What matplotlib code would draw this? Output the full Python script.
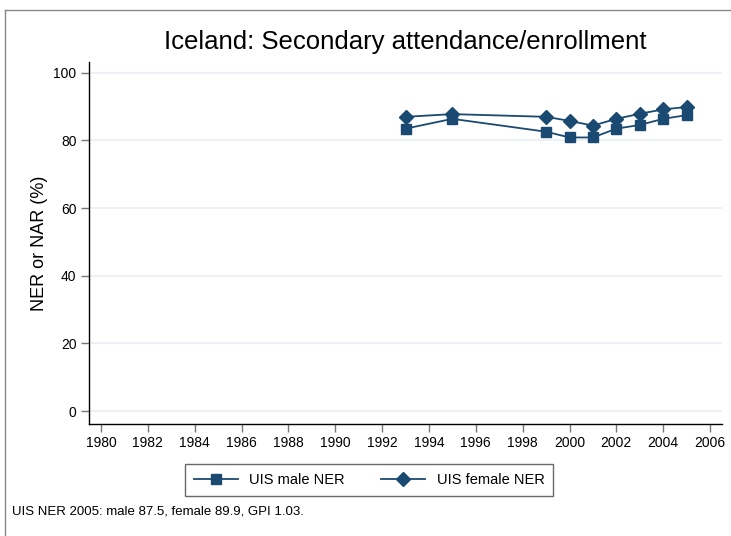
import matplotlib
matplotlib.use('Agg')
import matplotlib.pyplot as plt
from matplotlib.lines import Line2D

plt.rcParams['font.family'] = ['Liberation Sans', 'DejaVu Sans']

# datos
years_male = [1993, 1995, 1999, 2000, 2001, 2002, 2003, 2004, 2005]
male_ner = [83.5, 86.4, 82.6, 80.9, 80.9, 83.5, 84.6, 86.4, 87.5]
years_female = [1993, 1995, 1999, 2000, 2001, 2002, 2003, 2004, 2005]
female_ner = [87.0, 87.8, 87.0, 85.8, 84.4, 86.4, 87.9, 89.2, 89.9]
xticks = list(range(1980, 2007, 2))
yticks = [0, 20, 40, 60, 80, 100]

color = '#1a4a72'

fig = plt.figure(figsize=(7.31, 5.36), dpi=100)
ax = fig.add_axes([0.1218, 0.2090, 0.8659, 0.6753])

for y in yticks:
    ax.axhline(y, color='#e8eff2', lw=1.2, zorder=0)

ax.plot(years_male, male_ner, color=color, marker='s', ms=7, lw=1.3, label='UIS male NER')
ax.plot(years_female, female_ner, color=color, marker='D', ms=7.5, lw=1.3, label='UIS female NER')

ax.set_xlim(1979.49, 2006.51)
ax.set_ylim(-3.8, 103.2)
ax.set_xticks(xticks)
ax.set_yticks(yticks)
ax.tick_params(direction='out', length=6, width=1, color='#777777', labelsize=10, pad=3)
for s in ['top', 'right']:
    ax.spines[s].set_visible(False)
ax.spines['left'].set_linewidth(1.0)
ax.spines['bottom'].set_linewidth(1.0)
ax.set_ylabel('NER or NAR (%)', fontsize=13, labelpad=4)

fig.text(0.554, 0.921, 'Iceland: Secondary attendance/enrollment', ha='center', va='center', fontsize=18.5)

handles = [Line2D([], [], color=color, marker='s', ms=7, lw=1.3),
           Line2D([], [], color=color, marker='D', ms=7.5, lw=1.3)]
leg = fig.legend(handles, ['UIS male NER', 'UIS female NER'], loc='center',
                 bbox_to_anchor=(0.505, 0.1045), ncol=2, fontsize=10.5,
                 frameon=True, fancybox=False, edgecolor='#444444',
                 handlelength=3, columnspacing=2.5, borderpad=0.6)
leg.get_frame().set_linewidth(1.0)

fig.text(0.016, 0.045, 'UIS NER 2005: male 87.5, female 89.9, GPI 1.03.', fontsize=9.5, va='center')

# marco exterior
fig.add_artist(Line2D([0.007, 0.007], [0, 0.981], color='#888888', lw=1, transform=fig.transFigure))
fig.add_artist(Line2D([0.007, 1.01], [0.981, 0.981], color='#888888', lw=1, transform=fig.transFigure))

fig.savefig('out.png', dpi=100)
